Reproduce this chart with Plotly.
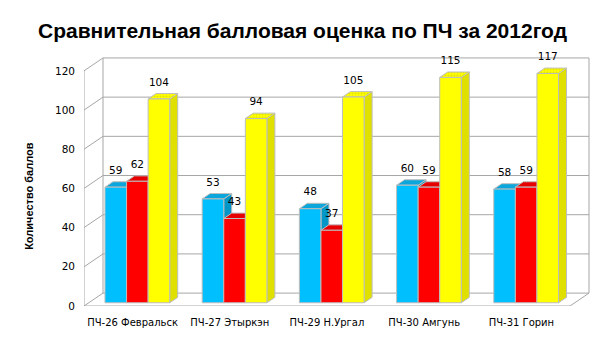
import plotly.graph_objects as go

# ---- data ----
categories = ["ПЧ-26 Февральск", "ПЧ-27 Этыркэн", "ПЧ-29 Н.Ургал", "ПЧ-30 Амгунь", "ПЧ-31 Горин"]
series_a = [59, 53, 48, 60, 58]
series_b = [62, 43, 37, 59, 59]
series_c = [104, 94, 105, 115, 117]
y_ticks = [0, 20, 40, 60, 80, 100, 120]
title_text = "Сравнительная балловая оценка по ПЧ за 2012год"
y_title = "Количество баллов"

# ---- styling / geometry ----
W, H = 605, 340
ML, MR, MT, MB = 84, 14, 50, 32
PW, PH = W - ML - MR, H - MT - MB
PX_PER_CAT = 97.2
PX_PER_VAL = 1.975
X0 = -0.5
X1 = X0 + PW / PX_PER_CAT
Y1 = PH / PX_PER_VAL
DX = 19 / PX_PER_CAT          # full depth, category units
DY = 13 / PX_PER_VAL          # full depth, value units
F0, F1 = 0.25, 0.67           # bar depth span (fraction of full depth)
BW = 0.222                    # bar width in category units
NCAT = len(categories)
VMAX = y_ticks[-1]

colors = [
    dict(front="#00BFFF", top="#0AA6DC", side="#0096C8"),
    dict(front="#FF0000", top="#E60000", side="#C80000"),
    dict(front="#FFFF00", top="#FFFF00", side="#E0E000"),
]
EDGE = "#BDBDBD"
GRID = "#A6A6A6"


def proj(x, v, f):
    return x + f * DX, v + f * DY


fig = go.Figure()


def line(pts):
    xs = [p[0] for p in pts]
    ys = [p[1] for p in pts]
    fig.add_trace(go.Scatter(x=xs, y=ys, mode="lines",
                             line=dict(color=GRID, width=1),
                             hoverinfo="skip", showlegend=False))


def poly(pts, fill, pattern=None):
    xs = [p[0] for p in pts] + [pts[0][0]]
    ys = [p[1] for p in pts] + [pts[0][1]]
    kw = {}
    if pattern:
        kw["fillpattern"] = pattern
    fig.add_trace(go.Scatter(x=xs, y=ys, mode="lines", fill="toself",
                             fillcolor=fill, line=dict(color=EDGE, width=1),
                             hoverinfo="skip", showlegend=False, **kw))


# walls & gridlines
xl_wall, xr_wall = X0, X0 + NCAT
for t in y_ticks:
    line([proj(xl_wall, t, 0), proj(xl_wall, t, 1), proj(xr_wall, t, 1)])
line([proj(xl_wall, 0, 0), proj(xl_wall, VMAX, 0)])
line([proj(xl_wall, 0, 1), proj(xl_wall, VMAX, 1)])
line([proj(xr_wall, 0, 1), proj(xr_wall, VMAX, 1)])
line([proj(xl_wall, 0, 0), proj(xr_wall, 0, 0), proj(xr_wall, 0, 1)])

# bars
label_x, label_y, label_t = [], [], []
all_series = [series_a, series_b, series_c]
for i in range(NCAT):
    for k, ser in enumerate(all_series):
        v = ser[i]
        c = colors[k]
        xl = i - 1.5 * BW + k * BW
        xr = xl + BW
        side = [proj(xr, 0, F0), proj(xr, 0, F1), proj(xr, v, F1), proj(xr, v, F0)]
        top = [proj(xl, v, F0), proj(xr, v, F0), proj(xr, v, F1), proj(xl, v, F1)]
        front = [proj(xl, 0, F0), proj(xr, 0, F0), proj(xr, v, F0), proj(xl, v, F0)]
        poly(side, c["side"])
        pat = None
        if k == 2:
            pat = dict(shape=".", fgcolor="#C8C800", bgcolor="#FFFF00", size=3, solidity=0.35)
        poly(top, c["top"], pat)
        poly(front, c["front"])
        cx, cy = proj((xl + xr) / 2, v, F0)
        label_x.append(cx)
        label_y.append(cy + 16 / PX_PER_VAL)
        label_t.append(str(v))

fig.add_trace(go.Scatter(x=label_x, y=label_y, text=label_t, mode="text",
                         textposition="middle center",
                         textfont=dict(family="DejaVu Sans", size=10.5, color="#000000"),
                         hoverinfo="skip", showlegend=False))

fig.update_layout(
    width=W, height=H,
    margin=dict(l=ML, r=MR, t=MT, b=MB, pad=0),
    paper_bgcolor="white", plot_bgcolor="white",
    showlegend=False,
    title=dict(text="<b>" + title_text + "</b>", x=0.5, xanchor="center",
               y=1 - 31 / H, yanchor="middle", yref="container",
               font=dict(family="Liberation Sans", size=21, color="#000000")),
    xaxis=dict(range=[X0, X1], tickvals=list(range(NCAT)), ticktext=categories,
               showgrid=False, zeroline=False, showline=False, ticks="",
               ticklabelstandoff=9,
               tickfont=dict(family="DejaVu Sans", size=10, color="#000000"),
               fixedrange=True),
    yaxis=dict(range=[0, Y1], tickvals=y_ticks, showgrid=False, zeroline=False,
               showline=False, ticks="", ticklabelstandoff=8,
               tickfont=dict(family="DejaVu Sans", size=10.5, color="#000000"),
               fixedrange=True),
    annotations=[dict(text="<b>" + y_title + "</b>", textangle=-90,
                      xref="paper", yref="paper",
                      x=(29 - ML) / PW, y=(H - MB - 197) / PH,
                      xanchor="center", yanchor="middle", showarrow=False,
                      font=dict(family="Liberation Sans", size=11, color="#000000"))],
)

fig.write_html("out.html")
